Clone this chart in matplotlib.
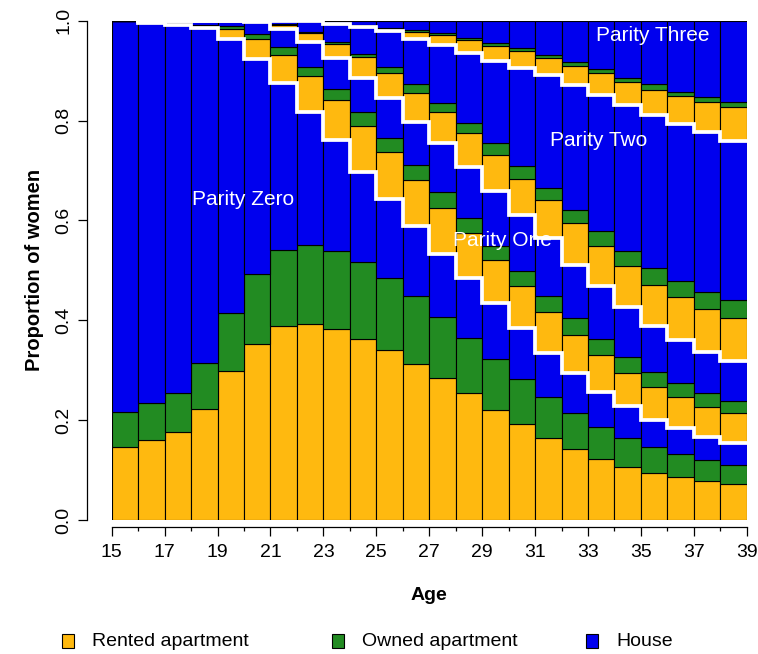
import numpy as np
import matplotlib.pyplot as plt
from matplotlib.patches import Rectangle

plt.rcParams['font.family'] = ['Liberation Sans', 'DejaVu Sans']

# ages 15..38, one bar per age, cumulative tops of each segment
ages = np.arange(15, 39)

# parity zero
p0_rent = [0.147, 0.160, 0.177, 0.223, 0.299, 0.353, 0.389, 0.393, 0.382, 0.362, 0.341, 0.312,
           0.284, 0.255, 0.220, 0.193, 0.164, 0.142, 0.122, 0.107, 0.095, 0.086, 0.079, 0.073]
p0_own = [0.216, 0.234, 0.255, 0.314, 0.414, 0.493, 0.541, 0.551, 0.539, 0.516, 0.484, 0.448,
          0.407, 0.364, 0.322, 0.282, 0.247, 0.214, 0.186, 0.164, 0.147, 0.132, 0.120, 0.110]
p0_top = [0.999, 0.996, 0.992, 0.985, 0.963, 0.924, 0.875, 0.818, 0.762, 0.698, 0.643, 0.588,
          0.533, 0.484, 0.434, 0.384, 0.334, 0.294, 0.257, 0.228, 0.200, 0.185, 0.166, 0.155]

# parity one
p1_rent = [0.999, 0.997, 0.994, 0.990, 0.983, 0.964, 0.932, 0.890, 0.842, 0.790, 0.738, 0.681,
           0.625, 0.575, 0.520, 0.468, 0.417, 0.371, 0.331, 0.295, 0.267, 0.246, 0.227, 0.215]
p1_own = [0.999, 0.998, 0.995, 0.992, 0.990, 0.974, 0.948, 0.908, 0.863, 0.818, 0.765, 0.711,
          0.656, 0.605, 0.548, 0.498, 0.448, 0.404, 0.362, 0.326, 0.297, 0.275, 0.254, 0.238]
p1_top = [1.000, 1.000, 1.000, 1.000, 1.000, 0.998, 0.984, 0.958, 0.925, 0.885, 0.845, 0.798,
          0.755, 0.708, 0.658, 0.611, 0.565, 0.511, 0.468, 0.427, 0.389, 0.361, 0.337, 0.319]

# parity two
p2_rent = [1.000, 1.000, 1.000, 1.000, 1.000, 0.999, 0.992, 0.975, 0.953, 0.927, 0.895, 0.856,
           0.818, 0.775, 0.731, 0.683, 0.640, 0.595, 0.549, 0.508, 0.471, 0.446, 0.422, 0.404]
p2_own = [1.000, 1.000, 1.000, 1.000, 1.000, 0.999, 0.994, 0.978, 0.958, 0.934, 0.908, 0.873,
          0.835, 0.795, 0.755, 0.710, 0.665, 0.621, 0.578, 0.539, 0.504, 0.478, 0.456, 0.441]
p2_top = [1.000, 1.000, 1.000, 1.000, 1.000, 1.000, 1.000, 1.000, 0.993, 0.988, 0.980, 0.964,
          0.952, 0.935, 0.920, 0.905, 0.892, 0.872, 0.852, 0.832, 0.812, 0.794, 0.778, 0.760]

# parity three (+)
p3_rent = [1.000, 1.000, 1.000, 1.000, 1.000, 1.000, 1.000, 1.000, 0.995, 0.991, 0.984, 0.978,
           0.972, 0.962, 0.950, 0.939, 0.925, 0.910, 0.895, 0.878, 0.862, 0.850, 0.838, 0.827]
p3_own = [1.000, 1.000, 1.000, 1.000, 1.000, 1.000, 1.000, 1.000, 0.996, 0.992, 0.986, 0.982,
          0.975, 0.965, 0.955, 0.945, 0.932, 0.917, 0.903, 0.885, 0.873, 0.858, 0.848, 0.838]

housing = ["Rented apartment", "Owned apartment", "House"]
colors = ["#FFB90F", "#228B22", "#0000EE"]
parity_names = ["Parity Zero", "Parity One", "Parity Two", "Parity Three"]

fig = plt.figure(figsize=(7.58, 6.54), dpi=100)
ax = fig.add_axes([0.1474, 0.2049, 0.8377, 0.7634])

bounds = [np.zeros(len(ages)),
          np.array(p0_rent), np.array(p0_own), np.array(p0_top),
          np.array(p1_rent), np.array(p1_own), np.array(p1_top),
          np.array(p2_rent), np.array(p2_own), np.array(p2_top),
          np.array(p3_rent), np.array(p3_own), np.ones(len(ages))]

for k in range(12):
    lo, hi = bounds[k], bounds[k + 1]
    ax.bar(ages, hi - lo, bottom=lo, width=1, align="edge",
           color=colors[k % 3], edgecolor="black", linewidth=0.8, zorder=2)

# white step lines between parities
for top in [p0_top, p1_top, p2_top]:
    y = np.append(top[1:], top[-1])
    ax.step(np.arange(16, 40), y, where="post", color="white", lw=2.7,
            zorder=3, solid_joinstyle="miter", clip_on=False)

# parity labels
ax.text(19.95, 0.641, parity_names[0], color="white", fontsize=15, ha="center", va="center", zorder=4)
ax.text(29.75, 0.559, parity_names[1], color="white", fontsize=15, ha="center", va="center", zorder=4)
ax.text(33.4, 0.761, parity_names[2], color="white", fontsize=15, ha="center", va="center", zorder=4)
ax.text(35.45, 0.971, parity_names[3], color="white", fontsize=15, ha="center", va="center", zorder=4)

ax.set_xlim(15, 39)
ax.set_ylim(0, 1)
for s in ["top", "right"]:
    ax.spines[s].set_visible(False)
ax.spines["left"].set_position(("outward", 18))
ax.spines["bottom"].set_position(("outward", 5))
ax.spines["left"].set_bounds(0, 1)
ax.spines["bottom"].set_bounds(15, 39)
ax.spines["left"].set_linewidth(0.9)
ax.spines["bottom"].set_linewidth(0.9)

ax.set_xticks(np.arange(15, 40, 2))
ax.set_xticks(np.arange(16, 39, 2), minor=True)
ax.set_yticks(np.arange(0, 1.01, 0.2))
ax.set_yticklabels([f"{v:.1f}" for v in np.arange(0, 1.01, 0.2)])
ax.tick_params(axis="x", which="major", length=6.5, width=0.9, labelsize=14, pad=6)
ax.tick_params(axis="x", which="minor", length=3, width=0.9)
ax.tick_params(axis="y", length=6.5, width=0.9, labelsize=14, labelrotation=90, pad=4)
for lab in ax.get_yticklabels():
    lab.set_va("center")

fig.text(0.045, 0.587, "Proportion of women", rotation=90, fontsize=14.5,
         fontweight="bold", ha="center", va="center")
fig.text(0.566, 0.090, "Age", fontsize=14, fontweight="bold", ha="center", va="center")

# legend along the bottom
leg_x = [68, 338, 592]
for lab, col, x in zip(housing, colors, leg_x):
    fig.add_artist(Rectangle(((x - 6) / 758, (654 - 648) / 654), 12 / 758, 14 / 654,
                             transform=fig.transFigure, facecolor=col,
                             edgecolor="black", linewidth=0.8))
    fig.text((x + 24) / 758, (654 - 641) / 654, lab, fontsize=14, ha="left", va="center")

fig.savefig("out.png", dpi=100)
